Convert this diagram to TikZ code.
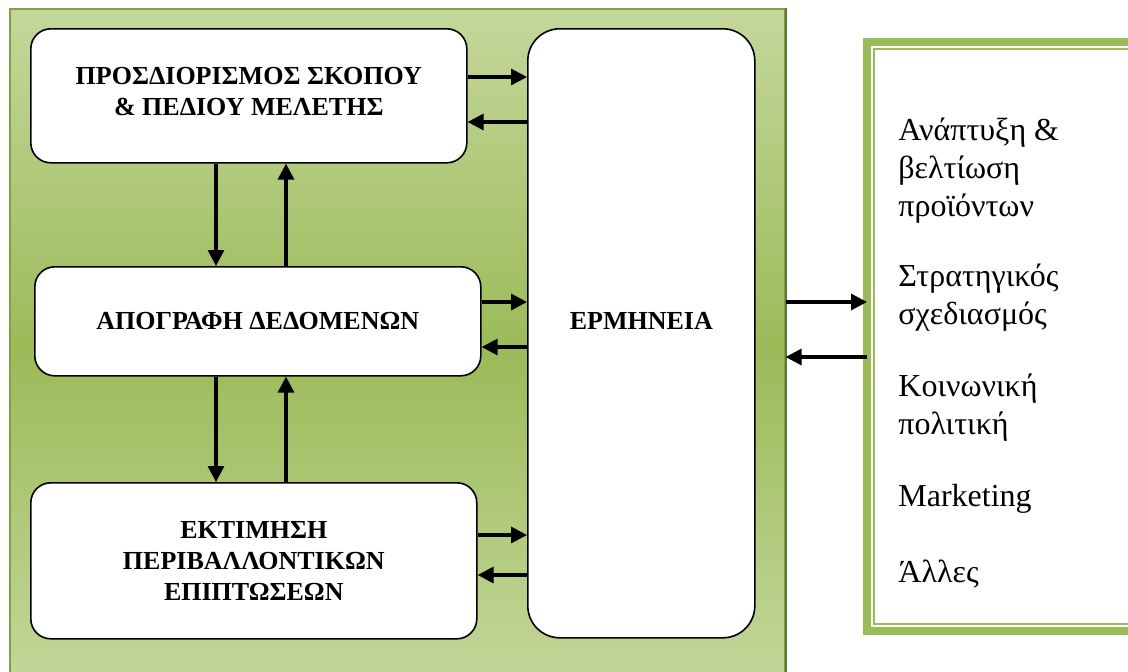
\documentclass[tikz,border=0pt]{standalone}
\usepackage{fontspec}
\setmainfont{Liberation Serif}
\usepackage{tikz}
\usetikzlibrary{arrows.meta, positioning, calc}
\definecolor{PanelLight}{RGB}{196,215,155}
\definecolor{PanelDark}{RGB}{155,187,89}
\definecolor{PanelEdge}{RGB}{128,160,68}
\definecolor{FrameGreen}{RGB}{155,187,89}
\tikzstyle{flow} = [line width=1.6pt, black, -{Triangle[length=8pt,width=8pt]}]
\tikzstyle{stagebox} = [draw, line width=0.8pt, fill=white, rounded corners=10pt, align=center, font=\fontsize{13}{15.5}\selectfont\bfseries, anchor=north west, inner sep=0pt]
\tikzstyle{usetext} = [font=\fontsize{16}{19}\selectfont, anchor=base west, inner sep=0pt]

\begin{document}
\begin{tikzpicture}[x=0.5pt, y=-0.5pt]
\useasboundingbox (0,0) rectangle (1128,671);
\clip (0,0) rectangle (1128,671);

\node[draw=PanelEdge, line width=0.8pt, top color=PanelLight, bottom color=PanelLight, middle color=PanelDark, minimum width=387.5pt, minimum height=340pt, anchor=north west, inner sep=0pt] (panel) at (9,8) {};
\draw[PanelEdge!75!black, line width=1pt] (panel.north east) -- (panel.south east);

\node[stagebox, minimum width=218pt, minimum height=67pt] (scope) at (30,28) {\raisebox{4pt}{ΠΡΟΣΔΙΟΡΙΣΜΟΣ ΣΚΟΠΟΥ}\\\raisebox{4pt}{\& ΠΕΔΙΟΥ ΜΕΛΕΤΗΣ}};
\node[stagebox, minimum width=223pt, minimum height=54.5pt] (data) at (34,266) {ΑΠΟΓΡΑΦΗ ΔΕΔΟΜΕΝΩΝ};
\node[stagebox, minimum width=223pt, minimum height=78pt] (impact) at (30,482) {ΕΚΤΙΜΗΣΗ\\ΠΕΡΙΒΑΛΛΟΝΤΙΚΩΝ\\ΕΠΙΠΤΩΣΕΩΝ};
\node[stagebox, rounded corners=16pt, minimum width=113.5pt, minimum height=304.5pt] (erm) at (527,28) {\raisebox{12pt}{ΕΡΜΗΝΕΙΑ}};

\node[draw=FrameGreen, line width=4pt, fill=white, outer sep=0pt, inner sep=0pt, minimum width=145pt, minimum height=294.5pt, anchor=north west] (uses) at (867,42) {};
\draw[FrameGreen, line width=1.2pt] ($(uses.north west)+(7,7)$) rectangle ($(uses.south east)+(-7,-7)$);

\draw[flow] (scope.east |- 0,77) -- (erm.west |- 0,77);
\draw[flow] (erm.west |- 0,122) -- (scope.east |- 0,122);
\draw[flow] (data.east |- 0,302) -- (erm.west |- 0,302);
\draw[flow] (erm.west |- 0,347) -- (data.east |- 0,347);
\draw[flow] (impact.east |- 0,535) -- (erm.west |- 0,535);
\draw[flow] (erm.west |- 0,575) -- (impact.east |- 0,575);

\draw[flow] (scope.south -| 216,0) -- (data.north -| 216,0);
\draw[flow] (data.north -| 286,0) -- (scope.south -| 286,0);
\draw[flow] (data.south -| 216,0) -- (impact.north -| 216,0);
\draw[flow] (impact.north -| 286,0) -- (data.south -| 286,0);

\draw[flow] (panel.east |- 0,302) -- (uses.west |- 0,302);
\draw[flow] (uses.west |- 0,357) -- (panel.east |- 0,357);

\foreach \yy/\txt [count=\i] in {140/Ανάπτυξη \&, 178/βελτίωση, 216/προϊόντων, 286/Στρατηγικός, 324/σχεδιασμός, 396/Κοινωνική, 434/πολιτική, 506/Marketing, 582/Άλλες}
  \node[usetext] (use\i) at (898,\yy) {\txt};
\end{tikzpicture}
\end{document}
